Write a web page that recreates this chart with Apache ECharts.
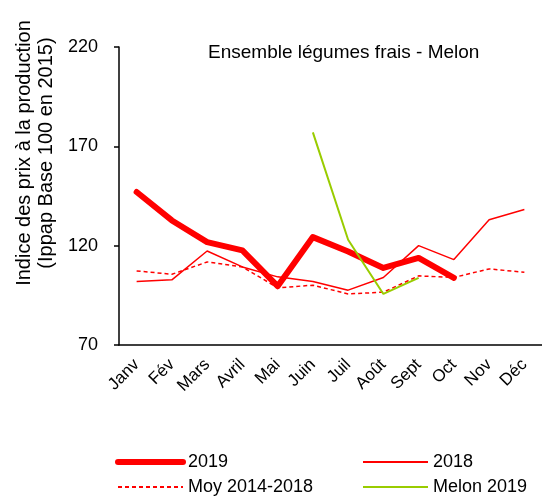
<!DOCTYPE html>
<html>
<head>
<meta charset="utf-8">
<script src="https://cdn.jsdelivr.net/npm/echarts@6/dist/echarts.min.js"></script>
<style>
    html, body { margin: 0; padding: 0; background: #fff; }
    #chart { width: 542px; height: 497px; }
</style>
</head>
<body>
<div id="chart"></div>
<script>
// données
var mois = ['Janv', 'Fév', 'Mars', 'Avril', 'Mai', 'Juin', 'Juil', 'Août', 'Sept', 'Oct', 'Nov', 'Déc'];
var val2019 = [147, 132.7, 121.8, 117.6, 99.6, 124.3, 117.1, 108.8, 113.8, 103.8, null, null];
var val2018 = [102, 102.8, 117.3, 109.3, 104.3, 102, 97.6, 104, 120, 113, 133, 138.2];
var moy1418 = [107.3, 105.6, 111.8, 109.3, 98.8, 100.1, 95.7, 96.6, 104.8, 104, 108.3, 106.6];
var melon2019 = [null, null, null, null, null, 177, 123, 95.7, 103.8, null, null, null];
var yTicks = [70, 120, 170, 220];

var police = 'Liberation Sans, Arial, sans-serif';
var chart = echarts.init(document.getElementById('chart'));

var legendeCommune = {
    orient: 'vertical',
    top: 453,
    padding: 0,
    itemWidth: 65,
    itemHeight: 14,
    itemGap: 7,
    itemStyle: { opacity: 0 },
    textStyle: { color: '#000', fontSize: 18, fontFamily: police }
};

var option = {
    animation: false,
    backgroundColor: '#fff',
    title: {
        text: 'Ensemble légumes frais - Melon',
        left: 203,
        top: 38,
        textStyle: { color: '#000', fontWeight: 'normal', fontSize: 19, fontFamily: police }
    },
    grid: { left: 119, right: 0, top: 47, bottom: 152 },
    xAxis: {
        type: 'category',
        data: mois,
        boundaryGap: true,
        axisLine: { lineStyle: { color: '#000', width: 1.5 } },
        axisTick: { length: 5, lineStyle: { color: '#000', width: 1.5 } },
        axisLabel: { rotate: 45, color: '#000', fontSize: 17, fontFamily: police, margin: 17, interval: 0 }
    },
    yAxis: {
        type: 'value',
        min: yTicks[0],
        max: yTicks[yTicks.length - 1],
        interval: 50,
        splitLine: { show: false },
        axisLine: { show: true, lineStyle: { color: '#000', width: 1.5 } },
        axisTick: { show: true, length: 5, lineStyle: { color: '#000', width: 1.5 } },
        axisLabel: { color: '#000', fontSize: 18, fontFamily: police, margin: 21 }
    },
    graphic: [{
        type: 'text',
        x: 35, y: 153,
        rotation: Math.PI / 2,
        style: {
            text: 'Indice des prix à la production\n(Ippap Base 100 en 2015)',
            fill: '#000',
            font: '20px ' + police,
            align: 'center',
            verticalAlign: 'middle',
            lineHeight: 22
        }
    }],
    legend: [
        Object.assign({}, legendeCommune, {
            left: 115,
            data: [
                { name: '2019', lineStyle: { width: 6 } },
                { name: 'Moy 2014-2018' }
            ]
        }),
        Object.assign({}, legendeCommune, {
            left: 362,
            data: ['2018', 'Melon 2019']
        })
    ],
    series: [{
        name: 'Moy 2014-2018',
        type: 'line',
        data: moy1418,
        symbol: 'none',
        lineStyle: { color: '#ff0000', width: 1.5, type: [4, 3] },
        itemStyle: { color: '#ff0000' }
    }, {
        name: '2018',
        type: 'line',
        data: val2018,
        symbol: 'none',
        lineStyle: { color: '#ff0000', width: 1.5 },
        itemStyle: { color: '#ff0000' }
    }, {
        name: '2019',
        type: 'line',
        data: val2019,
        symbol: 'none',
        lineStyle: { color: '#ff0000', width: 6, cap: 'round', join: 'round' },
        itemStyle: { color: '#ff0000' }
    }, {
        name: 'Melon 2019',
        type: 'line',
        data: melon2019,
        symbol: 'none',
        lineStyle: { color: '#99cc00', width: 2 },
        itemStyle: { color: '#99cc00' }
    }]
};
chart.setOption(option);
</script>
</body>
</html>
